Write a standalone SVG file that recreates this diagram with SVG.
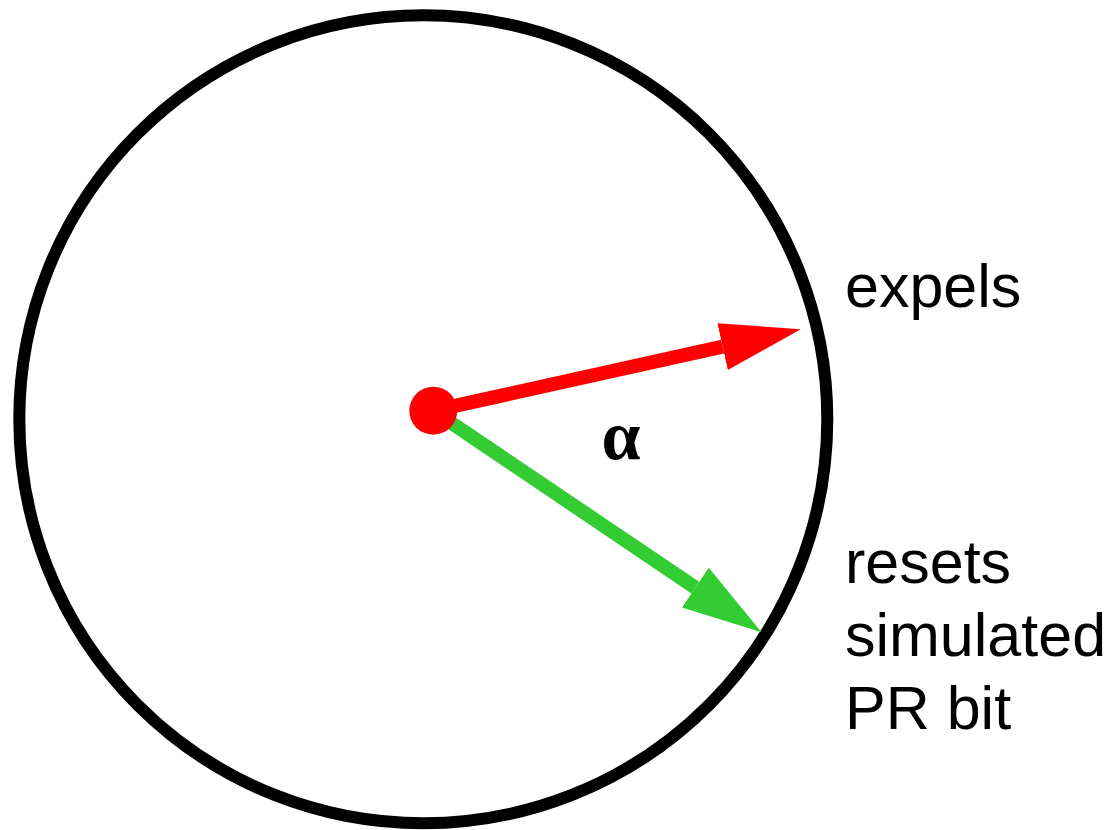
<svg xmlns="http://www.w3.org/2000/svg" width="1113" height="830" viewBox="0 0 1113 830">
  <style>
    .label { font-family: "Liberation Sans", Arial, sans-serif; font-size: 61px; fill: #000; }
    .greek { font-family: "Liberation Serif", "Times New Roman", serif; font-size: 70px; font-weight: bold; fill: #000; }
    .conn { fill: none; stroke-width: 14; stroke-linecap: butt; }
  </style>
  <defs>
    <marker id="headRed" markerUnits="userSpaceOnUse" viewBox="0 0 80 48" markerWidth="80" markerHeight="48" refX="0" refY="24" orient="auto">
      <path d="M0,0 L80,24 L0,48 Z" fill="#ff0000"/>
    </marker>
    <marker id="headGreen" markerUnits="userSpaceOnUse" viewBox="0 0 80 48" markerWidth="80" markerHeight="48" refX="0" refY="24" orient="auto">
      <path d="M0,0 L80,24 L0,48 Z" fill="#33cc33"/>
    </marker>
  </defs>
  <rect width="1113" height="830" fill="#ffffff"/>
  <g id="circle">
    <circle cx="423.3" cy="419.3" r="404" fill="none" stroke="#000" stroke-width="12"/>
  </g>
  <g id="connectors">
    <line class="conn" x1="433.3" y1="410.7" x2="695.3" y2="587.6" stroke="#33cc33" marker-end="url(#headGreen)"/>
    <line class="conn" x1="433.3" y1="410.7" x2="722.6" y2="346.6" stroke="#ff0000" marker-end="url(#headRed)"/>
  </g>
  <g id="center-dot">
    <circle cx="433.3" cy="410.7" r="24" fill="#ff0000"/>
  </g>
  <g id="alpha">
    <text class="greek" x="621" y="459" text-anchor="middle">α</text>
  </g>
  <g id="label-expels">
    <text class="label" x="845" y="307">expels</text>
  </g>
  <g id="label-resets">
    <text class="label" x="845" y="583">resets</text>
    <text class="label" x="845" y="656">simulated</text>
    <text class="label" x="845" y="729">PR bit</text>
  </g>
</svg>
